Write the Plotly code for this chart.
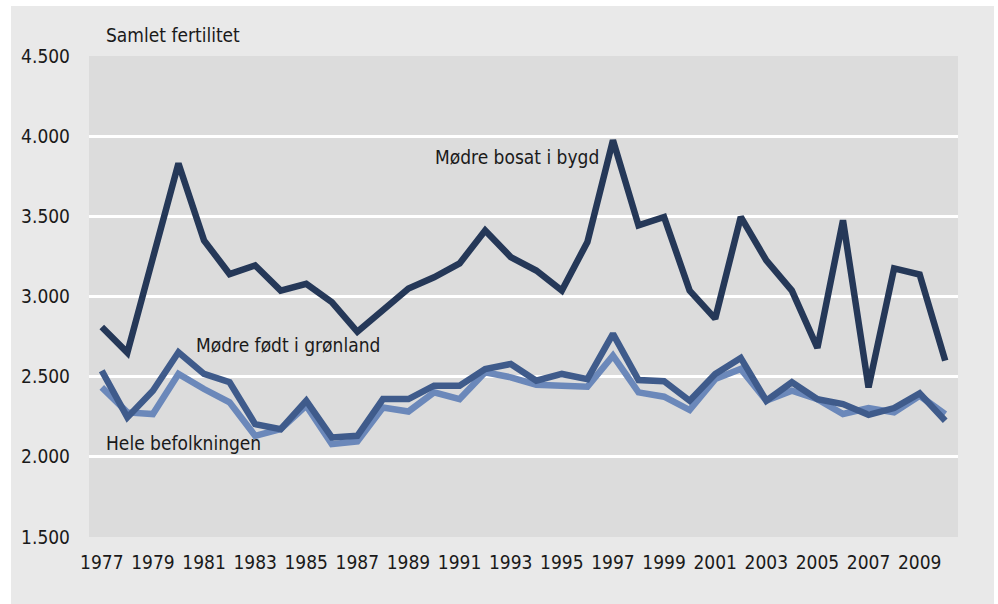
import plotly.graph_objects as go

years = list(range(1977, 2011))

bygd = [2810, 2650, 3240, 3830, 3350, 3140, 3194, 3037, 3079, 2965, 2780,
        2912, 3050, 3120, 3206, 3412, 3246, 3162, 3037, 3340, 3975, 3444,
        3496, 3037, 2862, 3496, 3225, 3037, 2680, 3475, 2433, 3175, 3137, 2600]

groenland = [2537, 2246, 2412, 2652, 2517, 2465, 2204, 2173, 2350, 2121, 2131,
             2360, 2360, 2444, 2444, 2548, 2579, 2475, 2517, 2485, 2767, 2479,
             2472, 2350, 2517, 2617, 2350, 2465, 2360, 2329, 2262, 2304, 2396, 2225]

hele = [2433, 2277, 2267, 2517, 2423, 2340, 2131, 2173, 2319, 2079, 2096,
        2308, 2283, 2402, 2360, 2527, 2496, 2450, 2444, 2437, 2631, 2402,
        2375, 2292, 2485, 2548, 2350, 2412, 2360, 2267, 2304, 2277, 2381, 2267]

y_ticks = [1500, 2000, 2500, 3000, 3500, 4000, 4500]
y_tick_labels = ["1.500", "2.000", "2.500", "3.000", "3.500", "4.000", "4.500"]
x_ticks = list(range(1977, 2010, 2))
x_tick_labels = [str(y) for y in x_ticks]

FONT = "DejaVu Sans Condensed, Liberation Sans Narrow, sans-serif"
TXT = "#1a1a1a"
FS = 19

fig = go.Figure()
fig.add_trace(go.Scatter(x=years, y=hele, mode="lines", name="Hele befolkningen",
                         line=dict(color="#6b88ba", width=6.5), showlegend=False))
fig.add_trace(go.Scatter(x=years, y=groenland, mode="lines", name="Mødre født i grønland",
                         line=dict(color="#3f5b8b", width=6.5), showlegend=False))
fig.add_trace(go.Scatter(x=years, y=bygd, mode="lines", name="Mødre bosat i bygd",
                         line=dict(color="#253858", width=6.5), showlegend=False))

L, R, T, B = 89, 40, 56, 67
W, H = 998, 604
pw, ph = W - L - R, H - T - B

def px_x(px):
    return (px - L) / pw

def px_y(py):
    return (H - B - py) / ph

shapes = [
    dict(type="rect", xref="paper", yref="paper", x0=px_x(-5), x1=px_x(11),
         y0=px_y(H + 5), y1=px_y(-5), fillcolor="white", line_width=0, layer="below"),
    dict(type="rect", xref="paper", yref="paper", x0=px_x(994), x1=px_x(W + 5),
         y0=px_y(H + 5), y1=px_y(-5), fillcolor="white", line_width=0, layer="below"),
    dict(type="rect", xref="paper", yref="paper", x0=px_x(-5), x1=px_x(W + 5),
         y0=px_y(6), y1=px_y(-5), fillcolor="white", line_width=0, layer="below"),
]

def ann(text, x, y):
    return dict(text=text, xref="paper", yref="paper", x=px_x(x), y=px_y(y),
                xanchor="left", yanchor="middle", showarrow=False,
                font=dict(size=FS, color=TXT, family=FONT))

annotations = [
    ann("Samlet fertilitet", 104, 35),
    ann("Mødre bosat i bygd", 433, 157),
    ann("Mødre født i grønland", 194, 345),
    ann("Hele befolkningen", 104, 443),
]

fig.update_layout(
    width=W, height=H,
    margin=dict(l=L, r=R, t=T, b=B),
    paper_bgcolor="#e9e9e9",
    plot_bgcolor="#dcdcdc",
    shapes=shapes,
    annotations=annotations,
    font=dict(family=FONT, size=FS, color=TXT),
    xaxis=dict(range=[1976.5, 2010.5], tickvals=x_ticks, ticktext=x_tick_labels,
               showgrid=False, zeroline=False, showline=False, ticks="",
               ticklabelstandoff=12, tickfont=dict(size=FS, color=TXT, family=FONT)),
    yaxis=dict(range=[1500, 4500], tickvals=y_ticks, ticktext=y_tick_labels,
               showgrid=True, gridcolor="white", gridwidth=2.5, zeroline=False,
               showline=False, ticks="", ticklabelstandoff=18,
               tickfont=dict(size=FS, color=TXT, family=FONT)),
)

fig.write_html(
    "out.html", config={"displayModeBar": False},
    post_script=("document.body.style.margin='0';document.body.style.padding='0';"
                 "document.body.style.overflow='hidden';"
                 "document.body.style.background='#e9e9e9';"
                 "document.documentElement.style.background='#e9e9e9';"),
)
